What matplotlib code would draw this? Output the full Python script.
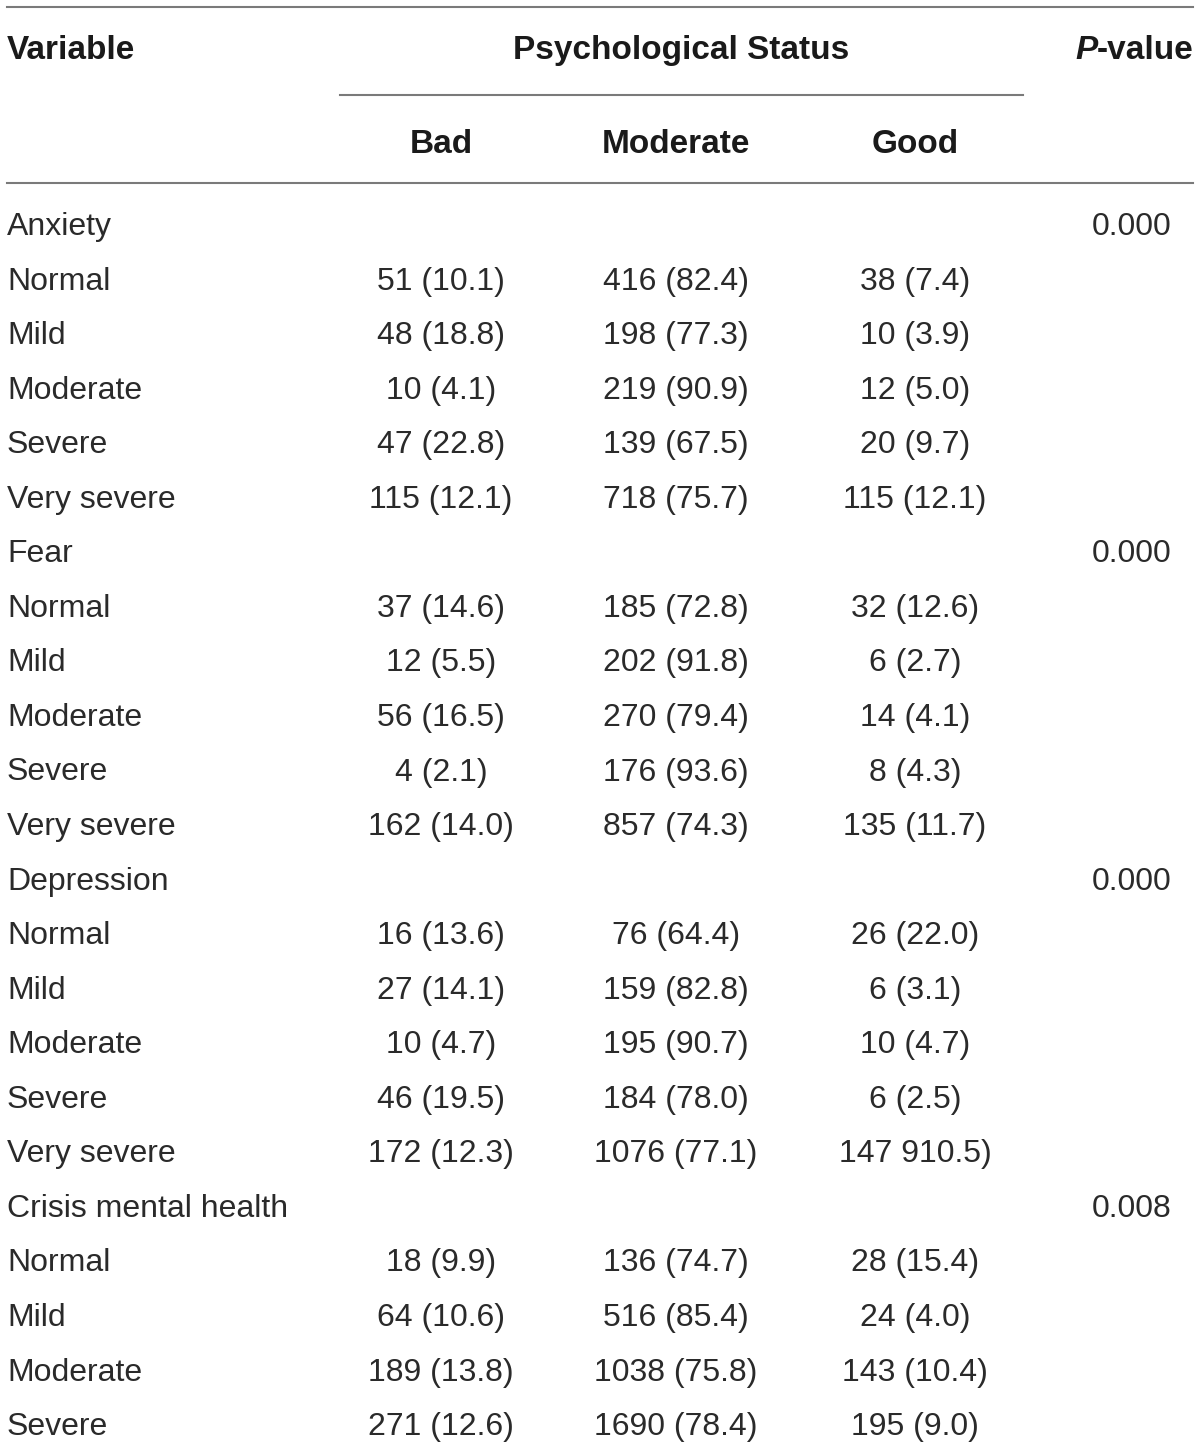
import matplotlib
matplotlib.use("Agg")
import matplotlib.pyplot as plt

# ---- data ----
row_labels = ["Anxiety", "Normal", "Mild", "Moderate", "Severe", "Very severe",
              "Fear", "Normal", "Mild", "Moderate", "Severe", "Very severe",
              "Depression", "Normal", "Mild", "Moderate", "Severe", "Very severe",
              "Crisis mental health", "Normal", "Mild", "Moderate", "Severe"]
bad = ["", "51 (10.1)", "48 (18.8)", "10 (4.1)", "47 (22.8)", "115 (12.1)",
       "", "37 (14.6)", "12 (5.5)", "56 (16.5)", "4 (2.1)", "162 (14.0)",
       "", "16 (13.6)", "27 (14.1)", "10 (4.7)", "46 (19.5)", "172 (12.3)",
       "", "18 (9.9)", "64 (10.6)", "189 (13.8)", "271 (12.6)"]
moderate = ["", "416 (82.4)", "198 (77.3)", "219 (90.9)", "139 (67.5)", "718 (75.7)",
            "", "185 (72.8)", "202 (91.8)", "270 (79.4)", "176 (93.6)", "857 (74.3)",
            "", "76 (64.4)", "159 (82.8)", "195 (90.7)", "184 (78.0)", "1076 (77.1)",
            "", "136 (74.7)", "516 (85.4)", "1038 (75.8)", "1690 (78.4)"]
good = ["", "38 (7.4)", "10 (3.9)", "12 (5.0)", "20 (9.7)", "115 (12.1)",
        "", "32 (12.6)", "6 (2.7)", "14 (4.1)", "8 (4.3)", "135 (11.7)",
        "", "26 (22.0)", "6 (3.1)", "10 (4.7)", "6 (2.5)", "147 910.5)",
        "", "28 (15.4)", "24 (4.0)", "143 (10.4)", "195 (9.0)"]
pvals = ["0.000", "", "", "", "", "",
         "0.000", "", "", "", "", "",
         "0.000", "", "", "", "", "",
         "0.008", "", "", "", ""]
col_headers = ["Bad", "Moderate", "Good"]

# ---- layout ----
W, H = 1200, 1449
fig = plt.figure(figsize=(W / 100, H / 100), dpi=100)
ax = fig.add_axes([0, 0, 1, 1])
ax.set_xlim(0, W)
ax.set_ylim(H, 0)
ax.axis("off")

font = "Liberation Sans"
tc = "#2a2a2a"
hc = "#1a1a1a"
body_fs = 23
head_fs = 24
line_c = "#7a7a7a"
lw = 1.5

# rules
ax.plot([7, 1193], [7, 7], color=line_c, lw=lw)
ax.plot([340, 1023], [95, 95], color=line_c, lw=lw)
ax.plot([7, 1193], [183, 183], color=line_c, lw=lw)

# headers
ax.text(7, 59, "Variable", fontsize=head_fs, fontweight="bold", family=font,
        color=hc, ha="left", va="baseline")
ax.text(681, 59, "Psychological Status", fontsize=head_fs, fontweight="bold",
        family=font, color=hc, ha="center", va="baseline")
ptxt = ax.text(1075, 59, "P", fontsize=head_fs, fontweight="bold", style="italic",
               family=font, color=hc, ha="left", va="baseline")
ax.annotate("-value", xy=(1, 0), xycoords=ptxt, xytext=(0, 0),
            textcoords="offset points", fontsize=head_fs, fontweight="bold",
            family=font, color=hc, ha="left", va="bottom")

col_x = [441, 676, 915]
for x, h in zip(col_x, col_headers):
    ax.text(x, 153, h, fontsize=head_fs, fontweight="bold", family=font,
            color=hc, ha="center", va="baseline")

# body
base0 = 235
step = 54.55
for i, lab in enumerate(row_labels):
    y = base0 + i * step
    ax.text(7, y, lab, fontsize=body_fs, family=font, color=tc,
            ha="left", va="baseline")
    for x, col in zip(col_x, (bad, moderate, good)):
        if col[i]:
            ax.text(x, y, col[i], fontsize=body_fs, family=font, color=tc,
                    ha="center", va="baseline")
    if pvals[i]:
        ax.text(1132, y, pvals[i], fontsize=body_fs, family=font, color=tc,
                ha="center", va="baseline")

fig.savefig("out.png", dpi=100, facecolor="white")
